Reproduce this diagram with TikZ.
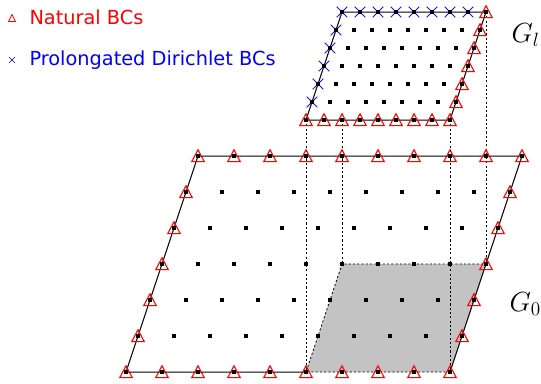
\documentclass[tikz,border=0pt]{standalone}
\usepackage{fontspec}
\newfontfamily\legendfont{DejaVu Sans}

\tikzset{every picture/.style={line width=0.75pt}}
\tikzset{
  natbc/.pic={\draw [color={rgb, 255:red, 255; green, 0; blue, 0 }, line width=0.8pt, line join=miter] (0,6.3) -- (6.3,-5.7) -- (-6.3,-5.7) -- cycle ;},
  dirbc/.pic={\draw [color={rgb, 255:red, 20; green, 20; blue, 255 }, line width=0.55pt] (-5.3,-5.3) -- (5.3,5.3) (-5.3,5.3) -- (5.3,-5.3) ;},
  natsmall/.pic={\draw [color={rgb, 255:red, 255; green, 0; blue, 0 }, line width=0.6pt] (0,3.5) -- (3.5,-3.5) -- (-3.5,-3.5) -- cycle ;},
  dirsmall/.pic={\draw [color={rgb, 255:red, 0; green, 0; blue, 255 }, line width=0.5pt] (-3,-3) -- (3,3) (-3,3) -- (3,-3) ;},
  gridpt/.style={fill=black, rectangle, minimum size=3pt, inner sep=0pt},
  hidden/.style={dash pattern=on 1.6pt off 1.6pt, line width=0.6pt}
}

\begin{document}
\begin{tikzpicture}[x=0.75pt,y=0.75pt,yscale=-1,xscale=1]
\path (0,0) rectangle (541,383); %set diagram to 541 x 383

%Shape: Refined patch on G0
\fill [color={rgb, 255:red, 195; green, 195; blue, 195 }] (306,372) -- (450,372) -- (486,264) -- (342,264) -- cycle ;
\draw [hidden] (450,372) -- (306,372) -- (342,264) -- (486,264) ;
%Shape: Coarse grid G0
\draw (306,372) -- (126,372) -- (198,156) -- (522,156) -- (450,372) ;
%Shape: Fine grid Gl
\draw (306,120) -- (450,120) -- (486,12) -- (342,12) -- cycle ;
%Straight Lines: projections
\draw [hidden] (306,120) -- (306,372) ;
\draw [hidden] (342,120) -- (342,264) ;
\draw [hidden] (450,120) -- (450,372) ;
\draw [hidden] (486,12) -- (486,264) ;

%Coarse boundary points
\foreach \i in {0,...,9} {
  \pic (cb\i) at ({126+36*\i},372) {natbc};
  \pic (ct\i) at ({198+36*\i},156) {natbc};
}
\foreach \j in {1,...,5} {
  \pic (cl\j) at ({126+12*\j},{372-36*\j}) {natbc};
  \pic (cr\j) at ({450+12*\j},{372-36*\j}) {natbc};
}
%Fine boundary points
\foreach \i in {0,...,8} \pic (fb\i) at ({306+18*\i},120) {natbc};
\foreach \j in {1,...,6} \pic (fr\j) at ({450+6*\j},{120-18*\j}) {natbc};
\foreach \i in {0,...,7} \pic (ft\i) at ({342+18*\i},12) {dirbc};
\foreach \j in {1,...,5} \pic (fl\j) at ({306+6*\j},{120-18*\j}) {dirbc};

%Grid points
\foreach \i in {0,...,9}
  \foreach \j in {0,...,6}
    \node [gridpt] (c-\i-\j) at ({126+36*\i+12*\j},{372-36*\j}) {};
\foreach \i in {0,...,8}
  \foreach \j in {0,...,6}
    \node [gridpt] (f-\i-\j) at ({306+18*\i+6*\j},{120-18*\j}) {};

%Legend
\pic (natmark) at (12,18) {natsmall};
\pic (dirmark) at (12,60) {dirsmall};
% Text Node
\draw (29,17) node [anchor=west][inner sep=0pt]  [font=\legendfont\fontsize{14.5}{17}\selectfont, color={rgb, 255:red, 255; green, 0; blue, 0 }] (natlabel) {Natural BCs};
% Text Node
\draw (29,60) node [anchor=west][inner sep=0pt]  [font=\legendfont\fontsize{14.5}{17}\selectfont, color={rgb, 255:red, 0; green, 0; blue, 255 }] (dirlabel) {Prolongated Dirichlet BCs};
% Text Node
\draw (511,42) node [anchor=base west][inner sep=0pt]  [font=\fontsize{19.5}{22}\selectfont] (gl) {$G_l$};
% Text Node
\draw (509,311) node [anchor=base west][inner sep=0pt]  [font=\fontsize{19.5}{22}\selectfont] (g0) {$G_0$};

\end{tikzpicture}
\end{document}
